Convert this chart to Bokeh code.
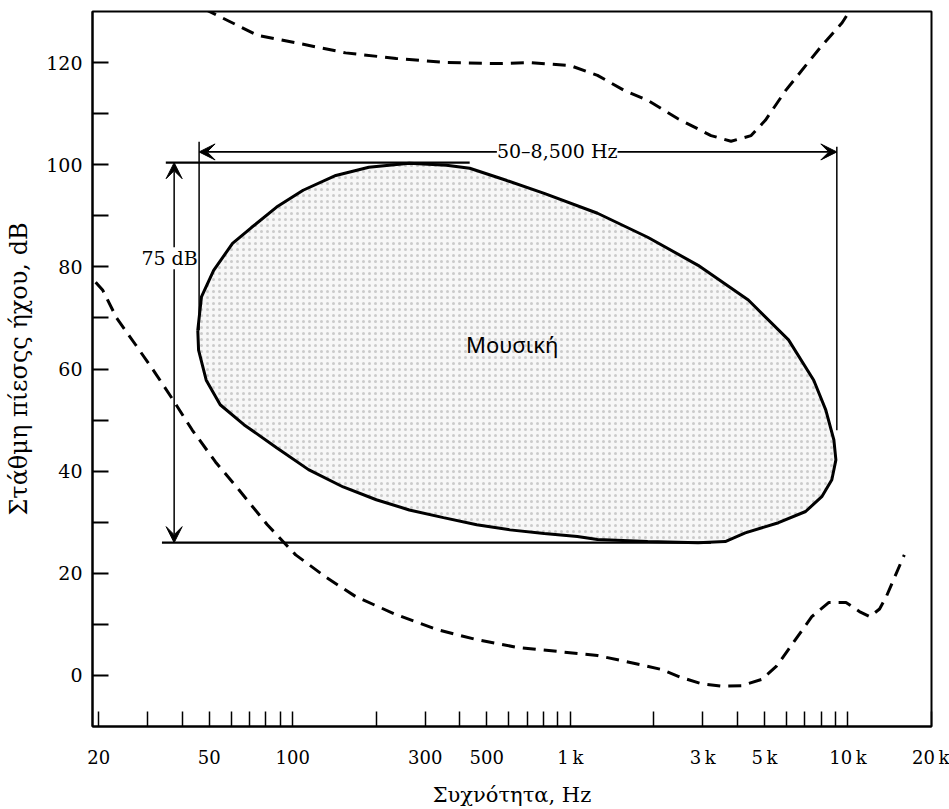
from bokeh.plotting import figure
from bokeh.models import FixedTicker, Label, Arrow, VeeHead
from bokeh.embed import file_html
from bokeh.resources import INLINE

# ---- axis ticks ----
x_ticks = [20, 30, 40, 50, 60, 70, 80, 90, 100, 200, 300, 400, 500, 600, 700, 800, 900,
           1000, 2000, 3000, 4000, 5000, 6000, 7000, 8000, 9000, 10000, 20000]
x_tick_labels = {20: "20", 50: "50", 100: "100", 300: "300", 500: "500",
                 1000: "1\u2009k", 3000: "3\u2009k", 5000: "5\u2009k",
                 10000: "10\u2009k", 20000: "20\u2009k"}
y_ticks = [0, 10, 20, 30, 40, 50, 60, 70, 80, 90, 100, 110, 120]
y_tick_labels = {0: "0", 20: "20", 40: "40", 60: "60", 80: "80", 100: "100", 120: "120"}

# ---- music region outline (Hz, dB) ----
music_freq = [45.5, 46.9, 51.9, 60.7, 71.0, 87.5, 109, 143, 188, 263, 358, 434, 591, 805,
              1253, 1900, 2886, 4377, 6110, 7530, 8320, 8900, 9050, 8750, 8050, 7040,
              5620, 4268, 3614, 2886, 1900, 1253, 1060, 805, 606, 460, 349, 263, 200,
              152, 114, 87.5, 66.7, 54.8, 48.8, 45.8]
music_level = [67.6, 74.1, 79.3, 84.6, 87.7, 91.7, 95.0, 97.9, 99.5, 100.3, 99.9, 99.3, 96.9,
               94.4, 90.5, 85.8, 80.3, 73.5, 65.7, 57.8, 52.0, 46.1, 42.2, 38.3, 35.0, 32.1,
               29.9, 27.9, 26.2, 26.0, 26.2, 26.6, 27.2, 27.8, 28.5, 29.5, 30.9, 32.4, 34.4,
               36.9, 40.3, 44.6, 49.1, 53.0, 57.8, 63.7]

# ---- upper dashed curve (threshold of feeling) ----
upper_freq = [48, 75, 102, 155, 236, 358, 544, 716, 1000, 1253, 1570, 1900, 2443, 3212,
              3793, 4480, 5040, 5960, 7040, 8050, 9530, 10400]
upper_level = [130.5, 125.3, 123.9, 121.9, 120.8, 120.0, 119.8, 120.0, 119.4, 117.5, 114.5,
               112.6, 109.0, 105.7, 104.6, 105.7, 108.7, 114.5, 119.4, 123.3, 127.8, 131]

# ---- lower dashed curve (threshold of hearing) ----
lower_freq = [19.5, 20.7, 23.2, 27.2, 31.8, 37.1, 43.4, 52.7, 64.1, 81, 102.5, 132, 169, 236,
              330, 460, 643, 897, 1253, 1795, 2118, 2505, 2960, 3494, 4130, 4880, 5530,
              6110, 7410, 8540, 9840, 11000, 12000, 13000, 13740, 14800, 15960]
lower_level = [77.0, 75.4, 70.0, 64.7, 59.4, 53.9, 48.1, 41.8, 36.3, 29.5, 23.6, 19.2, 15.4,
               11.9, 9.0, 7.0, 5.5, 4.7, 3.9, 2.1, 1.2, -0.4, -1.6, -2.1, -2.0, -0.8, 1.8,
               5.1, 11.5, 14.3, 14.3, 12.5, 11.5, 13.0, 15.4, 19.5, 23.6]

# ---- range brackets ----
band_low_hz = 46
band_high_hz = 9120
band_arrow_db = 102.5
left_edge_db = [104.5, 67.6]
right_edge_db = [103.5, 48.0]
level_top_db = 100.4
level_bottom_db = 26.0
level_top_hz = [34.9, 434]
level_bottom_hz = [33.8, 3212]
level_arrow_hz = 37.4

freq_label = "50\u20138,500 Hz"
freq_label_pos = (897, 102.6)
db_label = "75 dB"
db_label_pos = (36, 81.7)
music_label = "Μουσική"
music_label_pos = (617, 64.9)

x_title = "Συχνότητα, Hz"
y_title = "Στάθμη πίεσςς ήχου, dB"

SERIF = "DejaVu Serif"

p = figure(width=949, height=809, x_axis_type="log", x_range=(19, 20000), y_range=(-10, 130),
           output_backend="svg", toolbar_location=None,
           min_border_left=92, min_border_right=18, min_border_top=11, min_border_bottom=82)
p.background_fill_color = "white"
p.border_fill_color = "white"
p.outline_line_color = "black"
p.outline_line_width = 2
p.xgrid.visible = False
p.ygrid.visible = False

xa = p.xaxis[0]
xa.ticker = FixedTicker(ticks=x_ticks)
xa.major_label_overrides = {t: x_tick_labels.get(t, "") for t in x_ticks}
xa.major_tick_in = 15
xa.major_tick_out = 0
xa.minor_tick_line_color = None
xa.major_tick_line_color = "black"
xa.major_tick_line_width = 1.5
xa.axis_line_width = 2
xa.axis_line_color = "black"
xa.major_label_standoff = 20
xa.major_label_text_font = SERIF
xa.major_label_text_font_size = "18px"
xa.major_label_text_color = "black"
xa.axis_label = x_title
xa.axis_label_text_font = SERIF
xa.axis_label_text_font_size = "21px"
xa.axis_label_text_font_style = "normal"
xa.axis_label_text_color = "black"
xa.axis_label_standoff = 12

ya = p.yaxis[0]
ya.ticker = FixedTicker(ticks=y_ticks)
ya.major_label_overrides = {t: y_tick_labels.get(t, "") for t in y_ticks}
ya.major_tick_in = 16
ya.major_tick_out = 0
ya.minor_tick_line_color = None
ya.major_tick_line_color = "black"
ya.major_tick_line_width = 2
ya.axis_line_width = 2
ya.axis_line_color = "black"
ya.major_label_standoff = 10
ya.major_label_text_font = SERIF
ya.major_label_text_font_size = "19px"
ya.major_label_text_color = "black"
ya.axis_label = y_title
ya.axis_label_text_font = SERIF
ya.axis_label_text_font_size = "24px"
ya.axis_label_text_font_style = "normal"
ya.axis_label_text_color = "black"
ya.axis_label_standoff = 10

# music region
p.patch(music_freq, music_level, fill_color="#f7f7f7", line_color=None,
        hatch_pattern="dot", hatch_color="#8a8a8a", hatch_scale=6, hatch_weight=1, hatch_alpha=0.4)
p.line(music_freq + music_freq[:1], music_level + music_level[:1], line_color="black", line_width=3)

# dashed threshold curves
p.line(upper_freq, upper_level, line_color="black", line_width=3, line_dash="13 8")
p.line(lower_freq, lower_level, line_color="black", line_width=3, line_dash="13 8")

# bracket lines
p.segment(x0=[band_low_hz, band_high_hz], y0=[left_edge_db[0], right_edge_db[0]],
          x1=[band_low_hz, band_high_hz], y1=[left_edge_db[1], right_edge_db[1]],
          line_color="black", line_width=1.5)
p.segment(x0=[level_top_hz[0], level_bottom_hz[0]], y0=[level_top_db, level_bottom_db],
          x1=[level_top_hz[1], level_bottom_hz[1]], y1=[level_top_db, level_bottom_db],
          line_color="black", line_width=2.2)

def head():
    return VeeHead(size=16, fill_color="black", line_color="black", line_width=1)

p.add_layout(Arrow(x_start=band_low_hz, y_start=band_arrow_db, x_end=band_high_hz, y_end=band_arrow_db,
                   start=head(), end=head(), line_color="black", line_width=1.8))
p.add_layout(Arrow(x_start=level_arrow_hz, y_start=level_bottom_db, x_end=level_arrow_hz, y_end=level_top_db,
                   start=head(), end=head(), line_color="black", line_width=1.5))

p.add_layout(Label(x=freq_label_pos[0], y=freq_label_pos[1], text=freq_label, text_color="black",
                   text_font=SERIF, text_font_size="19px", text_align="center", text_baseline="middle",
                   background_fill_color="white", background_fill_alpha=1.0))
p.add_layout(Label(x=db_label_pos[0], y=db_label_pos[1], text=db_label, text_color="black",
                   text_font=SERIF, text_font_size="19px", text_align="center", text_baseline="middle",
                   background_fill_color="white", background_fill_alpha=1.0))
p.add_layout(Label(x=music_label_pos[0], y=music_label_pos[1], text=music_label, text_color="black",
                   text_font="Noto Sans", text_font_size="22px", text_align="center", text_baseline="middle"))

open("out.html", "w").write(file_html(p, INLINE))
